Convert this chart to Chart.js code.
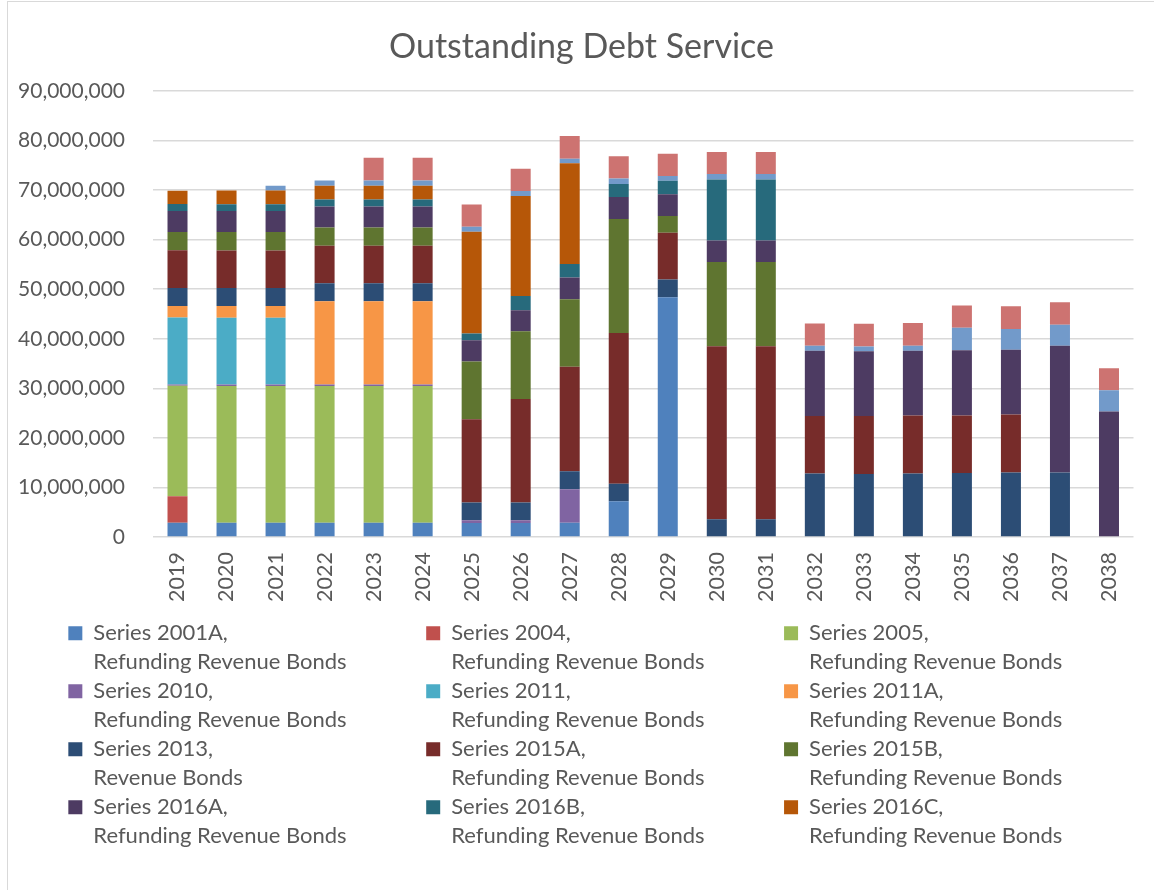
<!DOCTYPE html>
<html>
<head>
<meta charset="utf-8">
<title>Outstanding Debt Service</title>
<script src="https://cdn.jsdelivr.net/npm/chart.js@4.4.1/dist/chart.umd.min.js"></script>
<style>
  html, body { margin: 0; padding: 0; background: #fff; overflow: hidden; }
  #wrap { position: relative; width: 1154px; height: 890px; }
  #frame { position: absolute; left: 7px; top: 1px; width: 1300px; height: 1000px; border: 1px solid #d9d9d9; }
  #chartDebt { position: absolute; left: 0; top: 0; }
</style>
</head>
<body>
<div id="wrap">
  <div id="frame"></div>
  <canvas id="chartDebt" width="1154" height="890"></canvas>
</div>
<script>
// values in millions of dollars
const years = ['2019','2020','2021','2022','2023','2024','2025','2026','2027','2028',
               '2029','2030','2031','2032','2033','2034','2035','2036','2037','2038'];

const s2001A = [2.89, 2.89, 2.89, 2.89, 2.89, 2.89, 2.83, 2.83, 2.90, 7.20, 48.4, 0, 0, 0, 0, 0, 0, 0, 0, 0];
const s2004  = [5.31, 0, 0, 0, 0, 0, 0, 0, 0, 0, 0, 0, 0, 0, 0, 0, 0, 0, 0, 0];
const s2005  = [22.3, 27.6, 27.6, 27.6, 27.6, 27.6, 0, 0, 0, 0, 0, 0, 0, 0, 0, 0, 0, 0, 0, 0];
const s2010  = [0.27, 0.27, 0.27, 0.27, 0.27, 0.27, 0.54, 0.54, 6.73, 0, 0, 0, 0, 0, 0, 0, 0, 0, 0, 0];
const s2011  = [13.5, 13.5, 13.5, 0, 0, 0, 0, 0, 0, 0, 0, 0, 0, 0, 0, 0, 0, 0, 0, 0];
const s2011A = [2.35, 2.35, 2.35, 16.8, 16.8, 16.8, 0, 0, 0, 0, 0, 0, 0, 0, 0, 0, 0, 0, 0, 0];
const s2013  = [3.63, 3.63, 3.63, 3.63, 3.63, 3.63, 3.57, 3.57, 3.64, 3.57, 3.57, 3.57, 3.57, 12.8, 12.7, 12.8, 12.9, 13.0, 13.0, 0];
const s2015A = [7.59, 7.59, 7.59, 7.59, 7.59, 7.59, 16.8, 20.9, 21.1, 30.4, 9.43, 34.9, 34.9, 11.6, 11.7, 11.7, 11.6, 11.7, 0, 0];
const s2015B = [3.70, 3.70, 3.70, 3.70, 3.70, 3.70, 11.7, 13.7, 13.6, 23.0, 3.37, 17.0, 17.0, 0, 0, 0, 0, 0, 0, 0];
const s2016A = [4.23, 4.23, 4.23, 4.23, 4.23, 4.23, 4.24, 4.24, 4.38, 4.44, 4.38, 4.38, 4.38, 13.2, 13.1, 13.1, 13.2, 13.1, 25.6, 25.3];
const s2016B = [1.41, 1.41, 1.41, 1.41, 1.41, 1.41, 1.41, 2.83, 2.76, 2.63, 2.76, 12.3, 12.3, 0, 0, 0, 0, 0, 0, 0];
const s2016C = [2.69, 2.76, 2.76, 2.76, 2.76, 2.76, 20.5, 20.2, 20.3, 0, 0, 0, 0, 0, 0, 0, 0, 0, 0, 0];
// two more series sit on top of the stacks; their legend rows are cut off in the original
const sOther1 = [0, 0, 0.94, 1.08, 1.08, 1.08, 1.00, 1.00, 0.94, 1.08, 0.94, 1.08, 1.08, 1.00, 0.94, 1.00, 4.51, 4.18, 4.25, 4.31];
const sOther2 = [0, 0, 0, 0, 4.57, 4.57, 4.50, 4.50, 4.58, 4.51, 4.51, 4.44, 4.44, 4.50, 4.58, 4.58, 4.51, 4.58, 4.51, 4.45];

const seriesNames = ['Series 2001A,', 'Series 2004,', 'Series 2005,', 'Series 2010,', 'Series 2011,', 'Series 2011A,',
                     'Series 2013,', 'Series 2015A,', 'Series 2015B,', 'Series 2016A,', 'Series 2016B,', 'Series 2016C,',
                     'Other Series 1,', 'Other Series 2,'];
const seriesTypes = ['Refunding Revenue Bonds', 'Refunding Revenue Bonds', 'Refunding Revenue Bonds', 'Refunding Revenue Bonds',
                     'Refunding Revenue Bonds', 'Refunding Revenue Bonds', 'Revenue Bonds', 'Refunding Revenue Bonds',
                     'Refunding Revenue Bonds', 'Refunding Revenue Bonds', 'Refunding Revenue Bonds', 'Refunding Revenue Bonds',
                     'Revenue Bonds', 'Revenue Bonds'];
const seriesValues = [s2001A, s2004, s2005, s2010, s2011, s2011A, s2013, s2015A, s2015B, s2016A, s2016B, s2016C, sOther1, sOther2];
const seriesColors = ['#4F81BD', '#C0504D', '#9BBB59', '#8064A2', '#4BACC6', '#F79646',
                      '#2C4D75', '#772C2A', '#5F7530', '#4D3B62', '#276A7C', '#B65708',
                      '#729ACA', '#CD7371'];
const yTicks = [0, 10, 20, 30, 40, 50, 60, 70, 80, 90];

const MILLION = 1000000;
const FAMILY = 'Lato';
const TXT = '#595959';
const LEG_SIZE = 22;
const legendFont = { family: FAMILY, size: LEG_SIZE, lineHeight: 29 / 22 };

// the Excel legend is a fixed 3-column grid; chart.js sizes legend items with
// measureText(String(text)), so give each item a width key that lines columns up
const measureCtx = document.createElement('canvas').getContext('2d');
function widthKey(str, target){
  measureCtx.font = LEG_SIZE + 'px ' + FAMILY;
  let s = str, n = 0;
  while (measureCtx.measureText(s + ' ').width <= target && n++ < 200) s += ' ';
  while (measureCtx.measureText(s).width < target && n++ < 400) s += '\u200A';
  return s;
}
function legendText(i){
  const t = [seriesNames[i], seriesTypes[i]];
  const key = widthKey('Refunding Revenue Bonds', i % 3 === 2 ? 285 : 296.5);
  t.toString = () => key;
  return t;
}

// year labels hang below the x box, so pull the legend up under them
// and let it run to the bottom edge (the original legend is cut off there)
const legendNudge = {
  id: 'legendNudge',
  afterLayout(chart){
    const lg = chart.legend;
    lg.top = chart.scales.x.top + 49.3;
    lg.bottom = chart.height;
  }
};

const datasets = seriesValues.map((vals, i) => ({
  label: seriesNames[i] + ' ' + seriesTypes[i],
  data: vals.map(v => v * MILLION),
  backgroundColor: seriesColors[i],
  borderWidth: 0,
  barPercentage: 0.408,
  categoryPercentage: 1.0
}));

Chart.defaults.font.family = FAMILY;
Chart.defaults.color = TXT;

new Chart(document.getElementById('chartDebt'), {
  type: 'bar',
  data: { labels: years, datasets },
  plugins: [legendNudge],
  options: {
    responsive: false,
    animation: false,
    layout: { padding: { left: 9, right: 0, top: 0, bottom: 46 } },
    plugins: {
      title: {
        display: true,
        text: 'Outstanding Debt Service',
        color: TXT,
        font: { family: FAMILY, size: 34, weight: 'normal', lineHeight: 1.2 },
        padding: { top: 26.6, bottom: 23.6 }
      },
      legend: {
        display: true,
        position: 'bottom',
        align: 'center',
        labels: {
          color: TXT,
          font: legendFont,
          boxWidth: 14,
          boxHeight: 14,
          padding: 36,
          filter: item => item.datasetIndex < 12,
          generateLabels: chart => Chart.defaults.plugins.legend.labels.generateLabels(chart)
            .map(item => { item.text = legendText(item.datasetIndex); item.lineWidth = 0; return item; })
        }
      },
      tooltip: { enabled: false }
    },
    scales: {
      x: {
        stacked: true,
        grid: { display: false, drawTicks: false },
        border: { display: false },
        ticks: {
          color: TXT,
          font: { family: FAMILY, size: 21.5 },
          minRotation: 90,
          maxRotation: 90,
          autoSkip: false,
          padding: 15
        },
        afterFit: s => { s.height = 65; }
      },
      y: {
        stacked: true,
        min: 0,
        max: 90 * MILLION,
        grid: { color: '#d9d9d9', lineWidth: 1.5, drawTicks: false },
        border: { display: false },
        afterBuildTicks: s => { s.ticks = yTicks.map(v => ({ value: v * MILLION })); },
        ticks: {
          color: TXT,
          font: { family: FAMILY, size: 21 },
          padding: 28,
          callback: v => v.toLocaleString('en-US')
        },
        afterFit: s => { s.width = 144; }
      },
      yRight: {
        position: 'right',
        display: true,
        grid: { display: false },
        border: { display: false },
        ticks: { display: false },
        afterFit: s => { s.width = 20.5; }
      }
    }
  }
});
</script>
</body>
</html>
